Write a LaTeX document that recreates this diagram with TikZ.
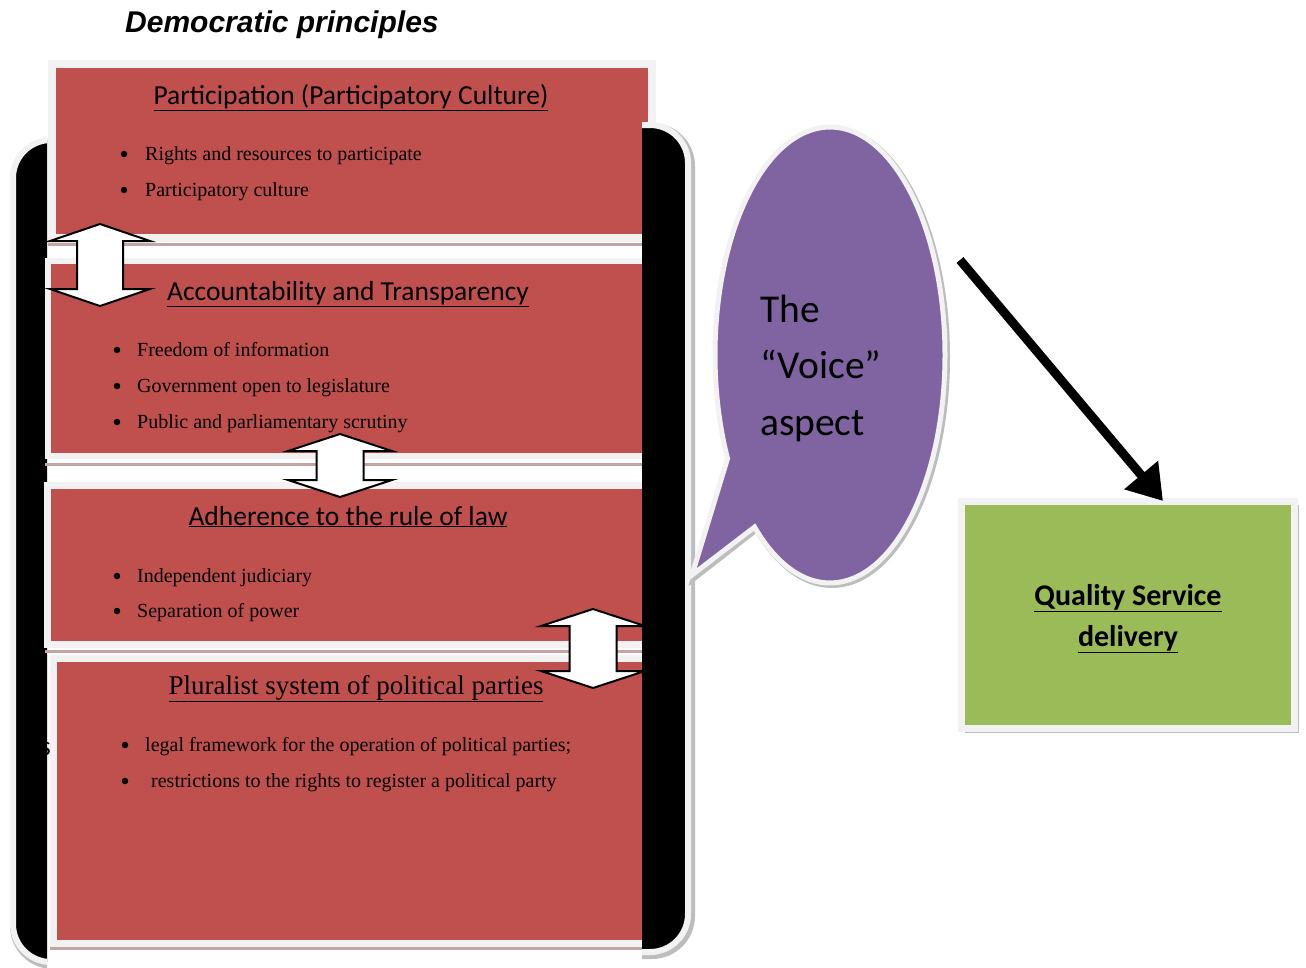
\documentclass[tikz,border=0pt]{standalone}
\usepackage{fontspec}
\setmainfont{Liberation Serif}
\newfontfamily\carlito{Carlito}
\newfontfamily\headsans{Liberation Sans}
\usetikzlibrary{arrows.meta}
\definecolor{boxred}{HTML}{C0504D}
\definecolor{voice}{HTML}{8064A2}
\definecolor{leaf}{HTML}{9BBB59}
\definecolor{rim}{HTML}{F2F2F2}
\definecolor{stripe}{HTML}{C4A4A4}
\definecolor{dropgray}{HTML}{BDBDBD}

% vertical two-headed block arrow: centre x, top tip y, bottom tip y, head half-width, shaft half-width
\newcommand\twoway[5]{%
  \draw[twowaystyle] (#1,#2) -- (#1+#4,#2+17) -- (#1+#5,#2+17) -- (#1+#5,#3-17)
    -- (#1+#4,#3-17) -- (#1,#3) -- (#1-#4,#3-17) -- (#1-#5,#3-17)
    -- (#1-#5,#2+17) -- (#1-#4,#2+17) -- cycle;}

\begin{document}
\begin{tikzpicture}[x=1pt,y=-1pt,
  column/.style={fill=black, draw=rim, line width=6, rounded corners=38},
  columnshadow/.style={draw=dropgray, line width=10, rounded corners=38},
  redbox/.style={rectangle, fill=boxred, draw=rim, inner sep=0pt, outer sep=0pt},
  stripeline/.style={draw=stripe, line width=3},
  ttl/.style={font=\carlito\fontsize{27.5}{33}\selectfont, anchor=base, inner sep=0pt},
  ttlserif/.style={font=\fontsize{27}{32}\selectfont, anchor=base, inner sep=0pt},
  dot/.style={circle, fill=black, inner sep=0pt, minimum size=6.5},
  item/.style={font=\fontsize{20}{24}\selectfont, anchor=base west, inner sep=0pt},
  twowaystyle/.style={fill=white, draw=black, line width=2, line join=miter},
  bubble/.style={fill=voice, draw=rim, line width=5},
  voicetext/.style={font=\carlito\fontsize{39.5}{47}\selectfont, anchor=base west, inner sep=0pt},
  goal/.style={rectangle, fill=leaf, draw=rim, line width=7, inner sep=0pt,
    minimum width=333, minimum height=227},
  goaltext/.style={font=\carlito\bfseries\fontsize{30}{36}\selectfont, anchor=base, inner sep=0pt},
  bigarrow/.style={draw=black, line width=9, -{Triangle[length=34pt,width=42pt]}}
]
\useasboundingbox (0,0) rectangle (1306,967);

% heading
\node[font=\headsans\bfseries\itshape\fontsize{30}{36}\selectfont, anchor=base west, inner sep=0pt]
  (head) at (125,32) {Democratic principles};

% left black column
\begin{scope}
  \clip (0,0) rectangle (47,967);
  \draw[columnshadow] (15,143) rectangle (200,964);
  \draw[column] (13,140) rectangle (200,962);
\end{scope}

% the four principle boxes
\node[redbox, line width=8, minimum width=600, minimum height=174] (p1) at (352,151) {};
\draw[stripeline] (48,244) -- (657,244);
\node[redbox, line width=6, minimum width=598, minimum height=195] (p2) at (347,358.5) {};
\draw[stripeline] (45,464) -- (642,464);
\node[redbox, line width=7, minimum width=599, minimum height=158.5] (p3) at (346.5,564.75) {};
\draw[stripeline] (45,651) -- (642,651);
\node[redbox, line width=7, minimum width=592.5, minimum height=284.5] (p4) at (349.75,800.75) {};
\draw[stripeline] (50,948) -- (642,948);

% box 1 text
\node[ttl] (p1t) at (351,104) {\underline{Participation (Participatory Culture)}};
\node[dot] (p1d1) at (124,154) {};
\node[item] (p1i1) at (145,160) {Rights and resources to participate};
\node[dot] (p1d2) at (124,190) {};
\node[item] (p1i2) at (145,196) {Participatory culture};

% box 2 text
\node[ttl] (p2t) at (348,300) {\underline{Accountability and Transparency}};
\node[dot] (p2d1) at (117,350) {};
\node[item] (p2i1) at (137,356) {Freedom of information};
\node[dot] (p2d2) at (117,386) {};
\node[item] (p2i2) at (137,392) {Government open to legislature};
\node[dot] (p2d3) at (117,422) {};
\node[item] (p2i3) at (137,428) {Public and parliamentary scrutiny};

% box 3 text
\node[ttl] (p3t) at (348,525) {\underline{Adherence to the rule of law}};
\node[dot] (p3d1) at (117,576) {};
\node[item] (p3i1) at (137,582) {Independent judiciary};
\node[dot] (p3d2) at (117,611) {};
\node[item] (p3i2) at (137,617) {Separation of power};

% box 4 text
\node[ttlserif] (p4t) at (356,694) {\underline{Pluralist system of political parties}};
\node[dot] (p4d1) at (125,745) {};
\node[item] (p4i1) at (145,751) {legal framework for the operation of political parties;};
\node[dot] (p4d2) at (125,781) {};
\node[item] (p4i2) at (151,787) {restrictions to the rights to register a political party};

% stray letter at the left edge
\node[font=\carlito\fontsize{27.5}{33}\selectfont, anchor=base east, inner sep=0pt]
  (sfrag) at (51,755) {s};

% two-headed arrows between the boxes
\twoway{100}{224}{306}{50}{23}
\twoway{340}{434}{497}{52}{23.5}
\twoway{593}{609}{688}{52}{23.5}

% right black column
\begin{scope}
  \clip (642,0) rectangle (720,967);
  \draw[columnshadow] (500,128) rectangle (690,954);
  \draw[column] (500,125) rectangle (688,952);
\end{scope}

% speech bubble
\draw[draw=dropgray, line width=6] (694,578) -- ([shift={(131:115 and 228)}]832,357)
  arc[start angle=131, end angle=-207, x radius=115, y radius=228] -- cycle;
\draw[bubble] (692,575) -- ([shift={(131:115 and 228)}]830,355)
  arc[start angle=131, end angle=-207, x radius=115, y radius=228] -- cycle;
\node[voicetext] (v1) at (760,322) {The};
\node[voicetext] (v2) at (760,378) {“Voice”};
\node[voicetext] (v3) at (760,435) {aspect};

% outcome box
\fill[dropgray] (964.5,504.5) rectangle (1299,733);
\node[goal] (qsd) at (1128,615) {};
\node[goaltext] (q1) at (1128,605) {\underline{Quality Service}};
\node[goaltext] (q2) at (1128,646) {\underline{delivery}};

% link from the voice to service delivery
\coordinate (voicelink) at (960,260);
\draw[bigarrow] (voicelink) -- ([xshift=35pt,yshift=-3pt]qsd.north);
\end{tikzpicture}
\end{document}
